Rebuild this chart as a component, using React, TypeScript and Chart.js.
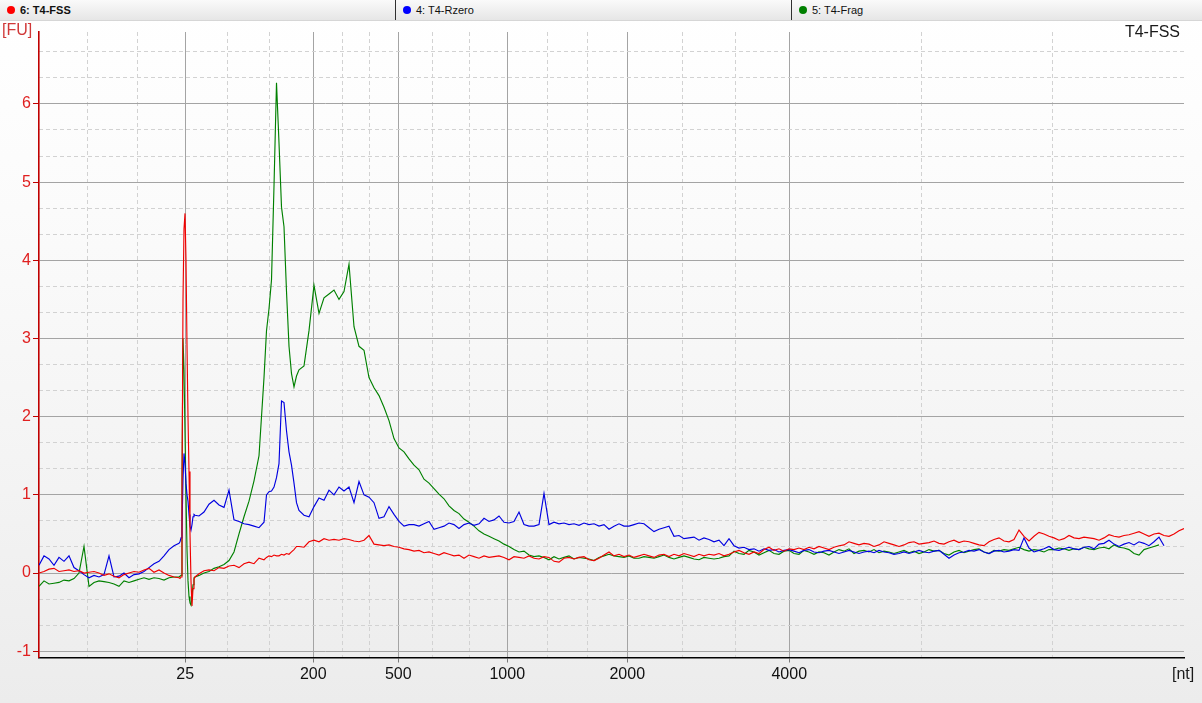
import React, { useEffect, useRef } from "react";
import { Chart, registerables } from "chart.js";

Chart.register(...registerables);

// ---- axis annotations -------------------------------------------------------
// x axis is migration time (s); ladder sizes (nt) are labelled at their times
const ladderLabels = ["25", "200", "500", "1000", "2000", "4000"];
const ladderTimes = [25.85, 30.97, 34.37, 38.73, 43.53, 50.01];
const minorTimes = [21.92, 23.92, 27.56, 29.22, 32.12, 33.2, 35.76, 37.2, 40.32, 41.92, 45.72, 47.84, 55.28, 60.52];
const fuTicks = [-1, 0, 1, 2, 3, 4, 5, 6];
const fuMinorTicks = [
  -2 / 3, -1 / 3, 1 / 3, 2 / 3, 4 / 3, 5 / 3, 7 / 3, 8 / 3,
  10 / 3, 11 / 3, 13 / 3, 14 / 3, 16 / 3, 17 / 3, 19 / 3, 20 / 3,
];
const timeMin = 20;
const timeMax = 65.8;
const fuMin = -1.08;
const fuMax = 6.92;

// sampling of each stretch of the run: [start time (s), step (s)]
const earlyStretch = [20.0, 0.2];
const markerStretch = [25.6, 0.04];
const riseStretch = [26.4, 0.2];
const peakStretch = [29.1, 0.1];
const tailStretch = [30.4, 0.2];

// ---- 6: T4-FSS (red) --------------------------------------------------------
const fssEarly = [0.0, 0.02, 0.05, 0.06, 0.02, 0.03, 0.04, 0.02, 0.03, 0.0, 0.01, 0.02, 0.0, -0.03, -0.01, -0.04, -0.06, -0.02, 0.0, 0.02, 0.01, 0.04, 0.06, 0.01, 0.04, 0.0, -0.03, -0.05];
const fssMarker = [-0.06, -0.07, -0.05, 1.0, 3.5, 4.4, 4.6, 4.0, 2.9, 2.0, 1.3, 0.5, -0.1, -0.42, -0.2, -0.08, -0.05];
const fssRise = [-0.01, 0.03, 0.04, 0.03, 0.07, 0.06, 0.09, 0.1, 0.07, 0.12, 0.14, 0.12, 0.19, 0.17];
const fssPeak = [0.2, 0.22, 0.21, 0.23, 0.22, 0.22, 0.24, 0.23, 0.25, 0.24, 0.27, 0.3, 0.34];
const fssTail = [
  0.34, 0.33, 0.4, 0.42, 0.4, 0.44, 0.42, 0.43, 0.42, 0.44,
  0.43, 0.41, 0.4, 0.42, 0.48, 0.37, 0.36, 0.35, 0.36, 0.34,
  0.33, 0.31, 0.3, 0.28, 0.29, 0.26, 0.27, 0.25, 0.23, 0.26,
  0.24, 0.22, 0.23, 0.19, 0.23, 0.21, 0.19, 0.22, 0.2, 0.21,
  0.22, 0.2, 0.17, 0.21, 0.2, 0.19, 0.22, 0.19, 0.18, 0.21,
  0.2, 0.15, 0.14, 0.19, 0.2, 0.18, 0.2, 0.21, 0.17, 0.16,
  0.19, 0.23, 0.27, 0.22, 0.24, 0.21, 0.23, 0.2, 0.22, 0.24,
  0.22, 0.2, 0.23, 0.24, 0.21, 0.24, 0.22, 0.25, 0.23, 0.21,
  0.24, 0.22, 0.24, 0.23, 0.25, 0.22, 0.24, 0.27, 0.29, 0.26,
  0.24, 0.27, 0.25, 0.3, 0.33, 0.29, 0.31, 0.28, 0.31, 0.3,
  0.32, 0.3, 0.33, 0.31, 0.34, 0.32, 0.3, 0.33, 0.35, 0.36,
  0.4, 0.38, 0.36, 0.38, 0.37, 0.34, 0.36, 0.4, 0.38, 0.36,
  0.34, 0.36, 0.39, 0.4, 0.37, 0.38, 0.39, 0.41, 0.38, 0.37,
  0.4, 0.42, 0.39, 0.41, 0.4, 0.38, 0.36, 0.35, 0.4, 0.43,
  0.45, 0.41, 0.4, 0.43, 0.55, 0.47, 0.41, 0.47, 0.52, 0.5,
  0.47, 0.45, 0.42, 0.44, 0.48, 0.45, 0.44, 0.46, 0.45, 0.44,
  0.42, 0.45, 0.49, 0.47, 0.46, 0.48, 0.49, 0.51, 0.53, 0.5,
  0.47, 0.5, 0.51, 0.48, 0.47, 0.5, 0.54, 0.57,
];

// ---- 4: T4-Rzero (blue) -----------------------------------------------------
const rzeroEarly = [0.1, 0.22, 0.18, 0.1, 0.2, 0.15, 0.22, 0.07, 0.03, -0.02, -0.06, -0.03, -0.05, -0.02, 0.22, -0.05, -0.04, 0.0, -0.06, -0.02, -0.01, 0.02, 0.07, 0.12, 0.15, 0.22, 0.3, 0.35];
const rzeroMarker = [0.38, 0.4, 0.45, 0.6, 1.2, 1.53, 1.4, 1.15, 1.0, 0.92, 0.75, 0.6, 0.55, 0.62, 0.72, 0.75, 0.74];
const rzeroRise = [0.73, 0.78, 0.88, 0.93, 0.87, 0.84, 1.06, 0.68, 0.66, 0.63, 0.62, 0.6, 0.58, 0.65];
const rzeroPeak = [1.0, 1.04, 1.05, 1.1, 1.22, 1.4, 2.2, 2.18, 1.82, 1.55, 1.38, 1.15, 0.9];
const rzeroTail = [
  0.8, 0.74, 0.72, 0.85, 0.96, 0.93, 1.06, 1.0, 1.1, 1.05,
  1.1, 0.9, 1.17, 1.0, 0.97, 0.9, 0.7, 0.72, 0.85, 0.75,
  0.66, 0.6, 0.62, 0.62, 0.6, 0.63, 0.66, 0.56, 0.58, 0.6,
  0.64, 0.62, 0.57, 0.62, 0.64, 0.61, 0.63, 0.7, 0.66, 0.68,
  0.73, 0.65, 0.64, 0.66, 0.78, 0.62, 0.6, 0.6, 0.62, 1.02,
  0.62, 0.65, 0.63, 0.64, 0.62, 0.63, 0.61, 0.64, 0.62, 0.63,
  0.6, 0.62, 0.56, 0.6, 0.63, 0.6, 0.6, 0.62, 0.64, 0.63,
  0.58, 0.53, 0.56, 0.58, 0.6, 0.47, 0.48, 0.44, 0.45, 0.46,
  0.42, 0.45, 0.43, 0.4, 0.42, 0.35, 0.44, 0.35, 0.32, 0.33,
  0.3, 0.31, 0.28, 0.31, 0.29, 0.3, 0.27, 0.29, 0.3, 0.28,
  0.26, 0.29, 0.3, 0.27, 0.26, 0.28, 0.29, 0.27, 0.25, 0.27,
  0.29, 0.27, 0.25, 0.27, 0.28, 0.26, 0.29, 0.27, 0.26, 0.24,
  0.25, 0.27, 0.25, 0.27, 0.29, 0.27, 0.26, 0.28, 0.29, 0.24,
  0.19, 0.23, 0.26, 0.27, 0.29, 0.28, 0.3, 0.27, 0.25, 0.28,
  0.29, 0.27, 0.28, 0.3, 0.29, 0.45, 0.32, 0.27, 0.29, 0.31,
  0.34, 0.3, 0.29, 0.31, 0.33, 0.31, 0.3, 0.33, 0.34, 0.31,
  0.37, 0.38, 0.42, 0.37, 0.34, 0.37, 0.39, 0.36, 0.4, 0.38,
  0.35, 0.4, 0.46, 0.35,
];

// ---- 5: T4-Frag (green) -----------------------------------------------------
const fragEarly = [-0.17, -0.1, -0.14, -0.13, -0.12, -0.09, -0.1, -0.07, 0.0, 0.34, -0.17, -0.12, -0.1, -0.11, -0.12, -0.14, -0.17, -0.1, -0.12, -0.1, -0.08, -0.06, -0.08, -0.06, -0.07, -0.09, -0.06, -0.05];
const fragMarker = [-0.05, -0.04, -0.03, 1.2, 3.0, 2.6, 1.8, 1.0, 0.3, -0.1, -0.3, -0.38, -0.41, -0.3, -0.15, -0.06, -0.05];
const fragRise = [-0.03, 0.0, 0.02, 0.06, 0.08, 0.11, 0.16, 0.27, 0.5, 0.72, 0.92, 1.18, 1.5, 2.5];
const fragPeak = [3.1, 3.38, 3.75, 4.95, 6.27, 5.5, 4.68, 4.43, 3.6, 2.9, 2.55, 2.38, 2.52];
const fragTail = [
  2.6, 2.65, 3.1, 3.68, 3.32, 3.52, 3.57, 3.62, 3.5, 3.6,
  3.95, 3.15, 2.9, 2.85, 2.5, 2.37, 2.27, 2.12, 1.95, 1.72,
  1.6, 1.55, 1.46, 1.38, 1.32, 1.2, 1.15, 1.08, 1.01, 0.95,
  0.86, 0.8, 0.76, 0.69, 0.65, 0.6, 0.54, 0.5, 0.47, 0.44,
  0.41, 0.37, 0.34, 0.3, 0.27, 0.28, 0.23, 0.21, 0.22, 0.2,
  0.17, 0.21, 0.18, 0.2, 0.22, 0.18, 0.2, 0.19, 0.18, 0.16,
  0.2, 0.22, 0.24, 0.22, 0.21, 0.2, 0.22, 0.19, 0.19, 0.21,
  0.2, 0.19, 0.21, 0.23, 0.2, 0.18, 0.2, 0.22, 0.2, 0.18,
  0.17, 0.2, 0.19, 0.18, 0.19, 0.21, 0.22, 0.28, 0.25, 0.24,
  0.29, 0.27, 0.23, 0.26, 0.29, 0.25, 0.24, 0.28, 0.29, 0.25,
  0.24, 0.29, 0.27, 0.24, 0.27, 0.26, 0.23, 0.27, 0.3, 0.28,
  0.31, 0.25, 0.28, 0.29, 0.27, 0.3, 0.26, 0.28, 0.27, 0.25,
  0.27, 0.29, 0.26, 0.28, 0.25, 0.27, 0.3, 0.28, 0.29, 0.25,
  0.23, 0.27, 0.29, 0.26, 0.28, 0.3, 0.31, 0.27, 0.25, 0.29,
  0.28, 0.3, 0.29, 0.31, 0.33, 0.3, 0.28, 0.3, 0.29, 0.27,
  0.3, 0.3, 0.32, 0.31, 0.29, 0.31, 0.3, 0.33, 0.31, 0.3,
  0.32, 0.33, 0.31, 0.36, 0.33, 0.32, 0.3, 0.25, 0.23, 0.3,
  0.32, 0.34, 0.36,
];

const FONT = "'Liberation Sans', Arial, sans-serif";

function stretch(spec: number[], values: number[]) {
  return values.map((v, i) => ({ x: +(spec[0] + spec[1] * i).toFixed(3), y: v }));
}

function trace(early: number[], marker: number[], rise: number[], peak: number[], tail: number[]) {
  return [
    ...stretch(earlyStretch, early),
    ...stretch(markerStretch, marker),
    ...stretch(riseStretch, rise),
    ...stretch(peakStretch, peak),
    ...stretch(tailStretch, tail),
  ];
}

const tabs = [
  { label: "6: T4-FSS", color: "#ff0000", bold: true },
  { label: "4: T4-Rzero", color: "#0000ff", bold: false },
  { label: "5: T4-Frag", color: "#008000", bold: false },
];

export default function App() {
  const canvasRef = useRef<HTMLCanvasElement>(null);

  useEffect(() => {
    const canvas = canvasRef.current;
    if (!canvas) return;
    const lineBase = { pointRadius: 0, borderWidth: 1.15, tension: 0, fill: false, xAxisID: "x", yAxisID: "y" };
    const chart = new Chart(canvas, {
      type: "line",
      data: {
        datasets: [
          { ...lineBase, label: "6: T4-FSS", borderColor: "#f00000", data: trace(fssEarly, fssMarker, fssRise, fssPeak, fssTail) },
          { ...lineBase, label: "4: T4-Rzero", borderColor: "#0000e0", data: trace(rzeroEarly, rzeroMarker, rzeroRise, rzeroPeak, rzeroTail) },
          { ...lineBase, label: "5: T4-Frag", borderColor: "#008000", data: trace(fragEarly, fragMarker, fragRise, fragPeak, fragTail) },
        ],
      } as any,
      options: {
        animation: false,
        responsive: false,
        maintainAspectRatio: false,
        layout: { padding: { top: 32, right: 18, left: 0, bottom: 0 } },
        plugins: { legend: { display: false }, tooltip: { enabled: false }, title: { display: false } },
        scales: {
          x: {
            type: "linear",
            position: "bottom",
            min: timeMin,
            max: timeMax,
            afterBuildTicks: (s: any) => {
              s.ticks = ladderTimes.map((v) => ({ value: v }));
            },
            afterFit: (s: any) => {
              s.height = 45.5;
            },
            ticks: {
              autoSkip: false,
              maxRotation: 0,
              padding: 2,
              color: "#111",
              font: { family: FONT, size: 16 },
              callback: (v: any) => {
                const i = ladderTimes.indexOf(Number(v));
                return i >= 0 ? ladderLabels[i] : "";
              },
            },
            grid: { color: "#a4a4a4", lineWidth: 1, tickLength: 5, tickColor: "#7a7a7a" },
            border: { color: "#000000", width: 1.6 },
          },
          x2: {
            type: "linear",
            position: "bottom",
            min: timeMin,
            max: timeMax,
            afterBuildTicks: (s: any) => {
              s.ticks = minorTimes.map((v) => ({ value: v }));
            },
            afterFit: (s: any) => {
              s.height = 0;
            },
            ticks: { display: false },
            grid: { color: "#d2d2d2", lineWidth: 1, drawTicks: false },
            border: { display: false, dash: [4, 3] },
          },
          y: {
            type: "linear",
            position: "left",
            min: fuMin,
            max: fuMax,
            afterBuildTicks: (s: any) => {
              s.ticks = fuTicks.map((v) => ({ value: v }));
            },
            afterFit: (s: any) => {
              s.width = 39;
            },
            ticks: {
              padding: 2,
              color: "#e02020",
              font: { family: FONT, size: 16 },
              callback: (v: any) => String(v),
            },
            grid: { color: "#a4a4a4", lineWidth: 1, tickLength: 6, tickColor: "#c00000" },
            border: { color: "#c00000", width: 1.6 },
          },
          y2: {
            type: "linear",
            position: "left",
            min: fuMin,
            max: fuMax,
            afterBuildTicks: (s: any) => {
              s.ticks = fuMinorTicks.map((v) => ({ value: v }));
            },
            afterFit: (s: any) => {
              s.width = 0;
            },
            ticks: { display: false },
            grid: { color: "#d2d2d2", lineWidth: 1, drawTicks: false },
            border: { display: false, dash: [4, 3] },
          },
        },
      } as any,
    });
    return () => chart.destroy();
  }, []);

  return (
    <div
      style={{
        position: "fixed",
        left: 0,
        top: 0,
        width: 1202,
        height: 703,
        overflow: "hidden",
        background: "linear-gradient(to bottom, #ffffff 0%, #fbfbfb 30%, #f3f3f3 70%, #ececec 100%)",
        fontFamily: FONT,
      }}
    >
      <canvas ref={canvasRef} width={1202} height={703} style={{ position: "absolute", left: 0, top: 0, width: 1202, height: 703 }} />
      <div
        style={{
          position: "absolute",
          left: 0,
          top: 0,
          width: 1202,
          height: 20,
          display: "flex",
          background: "linear-gradient(to bottom, #fafafa, #e6e6e6)",
          borderBottom: "1px solid #d6d6d6",
        }}
      >
        {tabs.map((t, i) => (
          <div
            key={t.label}
            style={{
              width: i < 2 ? 396 : 410,
              height: 20,
              boxSizing: "border-box",
              borderRight: i < 2 ? "1px solid #303030" : "none",
              display: "flex",
              alignItems: "center",
              paddingLeft: 7,
              fontSize: 11,
              fontWeight: t.bold ? 700 : 400,
              color: "#111",
              whiteSpace: "nowrap",
            }}
          >
            <span
              style={{
                display: "inline-block",
                width: 8,
                height: 8,
                borderRadius: 4,
                background: t.color,
                marginRight: 5,
              }}
            />
            {t.label}
          </div>
        ))}
      </div>
      <div style={{ position: "absolute", left: 2, top: 22, fontSize: 16, lineHeight: "16px", color: "#d03838" }}>[FU]</div>
      <div style={{ position: "absolute", right: 22, top: 24, fontSize: 16, lineHeight: "16px", color: "#1a1a1a" }}>T4-FSS</div>
      <div style={{ position: "absolute", left: 1172, top: 666, fontSize: 16, lineHeight: "16px", color: "#1a1a1a" }}>[nt]</div>
    </div>
  );
}
